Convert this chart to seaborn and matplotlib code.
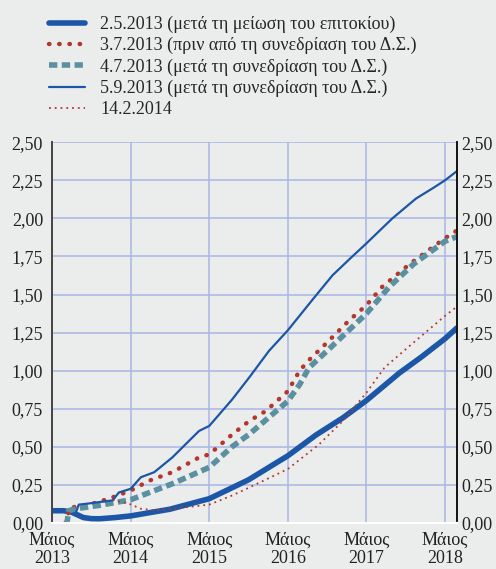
import matplotlib
matplotlib.use("Agg")
import matplotlib.pyplot as plt
import seaborn as sns
import pandas as pd

# x = years since May 2013
x_0205 = [0.0, 0.15, 0.25, 0.40, 0.50, 0.60, 0.80, 1.0, 1.5, 2.0, 2.5, 3.0, 3.36, 3.7, 4.0, 4.42, 4.7, 5.0, 5.15]
y_0205 = [0.08, 0.08, 0.07, 0.035, 0.028, 0.027, 0.035, 0.046, 0.09, 0.159, 0.283, 0.441, 0.578, 0.69, 0.804, 0.985, 1.09, 1.21, 1.28]

x_0307 = [0.17, 0.19, 0.22, 0.44, 0.73, 1.0, 1.24, 1.53, 1.87, 2.0, 2.29, 2.51, 2.72, 3.0, 3.15, 3.27, 3.49, 3.78, 4.0, 4.2, 4.55, 5.0, 5.15]
y_0307 = [0.0, 0.02, 0.10, 0.115, 0.16, 0.213, 0.278, 0.333, 0.43, 0.45, 0.58, 0.67, 0.735, 0.865, 1.0, 1.07, 1.18, 1.33, 1.43, 1.55, 1.70, 1.87, 1.92]

x_0407 = [0.17, 0.19, 0.21, 0.30, 0.60, 1.0, 1.24, 1.53, 2.0, 2.29, 2.51, 3.0, 3.15, 3.27, 3.53, 4.0, 4.29, 4.6, 5.0, 5.15]
y_0407 = [0.0, 0.0, 0.08, 0.093, 0.115, 0.152, 0.20, 0.257, 0.365, 0.50, 0.583, 0.80, 0.909, 1.02, 1.145, 1.375, 1.55, 1.70, 1.85, 1.88]

x_0509 = [0.30, 0.34, 0.44, 0.77, 0.85, 1.0, 1.13, 1.30, 1.53, 1.87, 2.0, 2.29, 2.52, 2.76, 3.0, 3.32, 3.57, 3.8, 4.0, 4.33, 4.63, 4.85, 5.0, 5.15]
y_0509 = [0.065, 0.12, 0.126, 0.148, 0.20, 0.224, 0.30, 0.333, 0.43, 0.604, 0.637, 0.81, 0.963, 1.13, 1.265, 1.47, 1.627, 1.74, 1.836, 2.0, 2.13, 2.20, 2.25, 2.31]

x_1402 = [0.77, 0.98, 1.13, 1.30, 1.53, 2.0, 2.29, 2.52, 3.0, 3.4, 3.7, 4.0, 4.23, 4.51, 5.0, 5.15]
y_1402 = [0.15, 0.126, 0.093, 0.083, 0.093, 0.12, 0.18, 0.235, 0.354, 0.517, 0.67, 0.855, 1.02, 1.145, 1.36, 1.42]

labels = [
    "2.5.2013 (μετά τη μείωση του επιτοκίου)",
    "3.7.2013 (πριν από τη συνεδρίαση του Δ.Σ.)",
    "4.7.2013 (μετά τη συνεδρίαση του Δ.Σ.)",
    "5.9.2013 (μετά τη συνεδρίαση του Δ.Σ.)",
    "14.2.2014",
]
year_ticks = [0, 1, 2, 3, 4, 5]
year_labels = ["Μάιος\n2013", "Μάιος\n2014", "Μάιος\n2015", "Μάιος\n2016", "Μάιος\n2017", "Μάιος\n2018"]
y_ticks = [0.0, 0.25, 0.5, 0.75, 1.0, 1.25, 1.5, 1.75, 2.0, 2.25, 2.5]
y_labels = [f"{v:.2f}".replace(".", ",") for v in y_ticks]

bg = "#ebedec"
blue = "#1c56a6"
red = "#b3372c"
teal = "#5b90a0"

sns.set_theme(style="white")
plt.rcParams["font.family"] = ["Liberation Serif", "DejaVu Serif"]

fig = plt.figure(figsize=(4.96, 5.69), dpi=100, facecolor=bg)
ax = fig.add_axes([0.105, 0.081, 0.816, 0.669])
ax.set_facecolor(bg)

series = [
    (x_0205, y_0205, dict(color=blue, lw=4.0, ls="-")),
    (x_0307, y_0307, dict(color=red, lw=3.2, ls=(0, (0.1, 2.2)), dash_capstyle="round")),
    (x_0407, y_0407, dict(color=teal, lw=4.0, ls=(0, (1.5, 0.8)))),
    (x_0509, y_0509, dict(color=blue, lw=1.6, ls="-")),
    (x_1402, y_1402, dict(color=red, lw=1.3, ls=(0, (1, 2.2)))),
]
handles = []
for (xs, ys, kw), lab in zip(series, labels):
    df = pd.DataFrame({"x": xs, "y": ys})
    sns.lineplot(data=df, x="x", y="y", ax=ax, **kw)
    handles.append(ax.lines[-1])

ax.set_xlim(0, 5.15)
ax.set_ylim(0, 2.5)
ax.set_xticks(year_ticks)
ax.set_xticklabels(year_labels, fontsize=13, linespacing=1.1)
ax.set_yticks(y_ticks)
ax.set_yticklabels(y_labels, fontsize=13)
ax.set_xlabel("")
ax.set_ylabel("")

ax.grid(True, color="#a9b5e6", lw=1.1)
ax.set_axisbelow(True)
ax.tick_params(axis="y", length=0, pad=6.5, colors="#222222")
ax.tick_params(axis="x", direction="out", length=5, width=1, color="#333333", pad=1, labelcolor="#222222")

# right-hand value labels
ax2 = ax.twinx()
ax2.set_ylim(0, 2.5)
ax2.set_yticks(y_ticks)
ax2.set_yticklabels(y_labels, fontsize=13)
ax2.tick_params(axis="y", length=0, pad=3.5, colors="#222222")
ax2.grid(False)

for a in (ax, ax2):
    a.spines["top"].set_visible(False)
    a.spines["left"].set_color("#444444")
    a.spines["left"].set_linewidth(1.2)
    a.spines["right"].set_color("#111111")
    a.spines["right"].set_linewidth(1.2)
    a.spines["bottom"].set_color("white")
    a.spines["bottom"].set_linewidth(1.5)

fig.legend(handles, labels, loc="upper left", bbox_to_anchor=(0.085, 0.985),
           frameon=False, fontsize=13, handlelength=1.95, handletextpad=0.85,
           labelspacing=0.22, borderaxespad=0)

fig.savefig("out.png", dpi=100, facecolor=bg)
